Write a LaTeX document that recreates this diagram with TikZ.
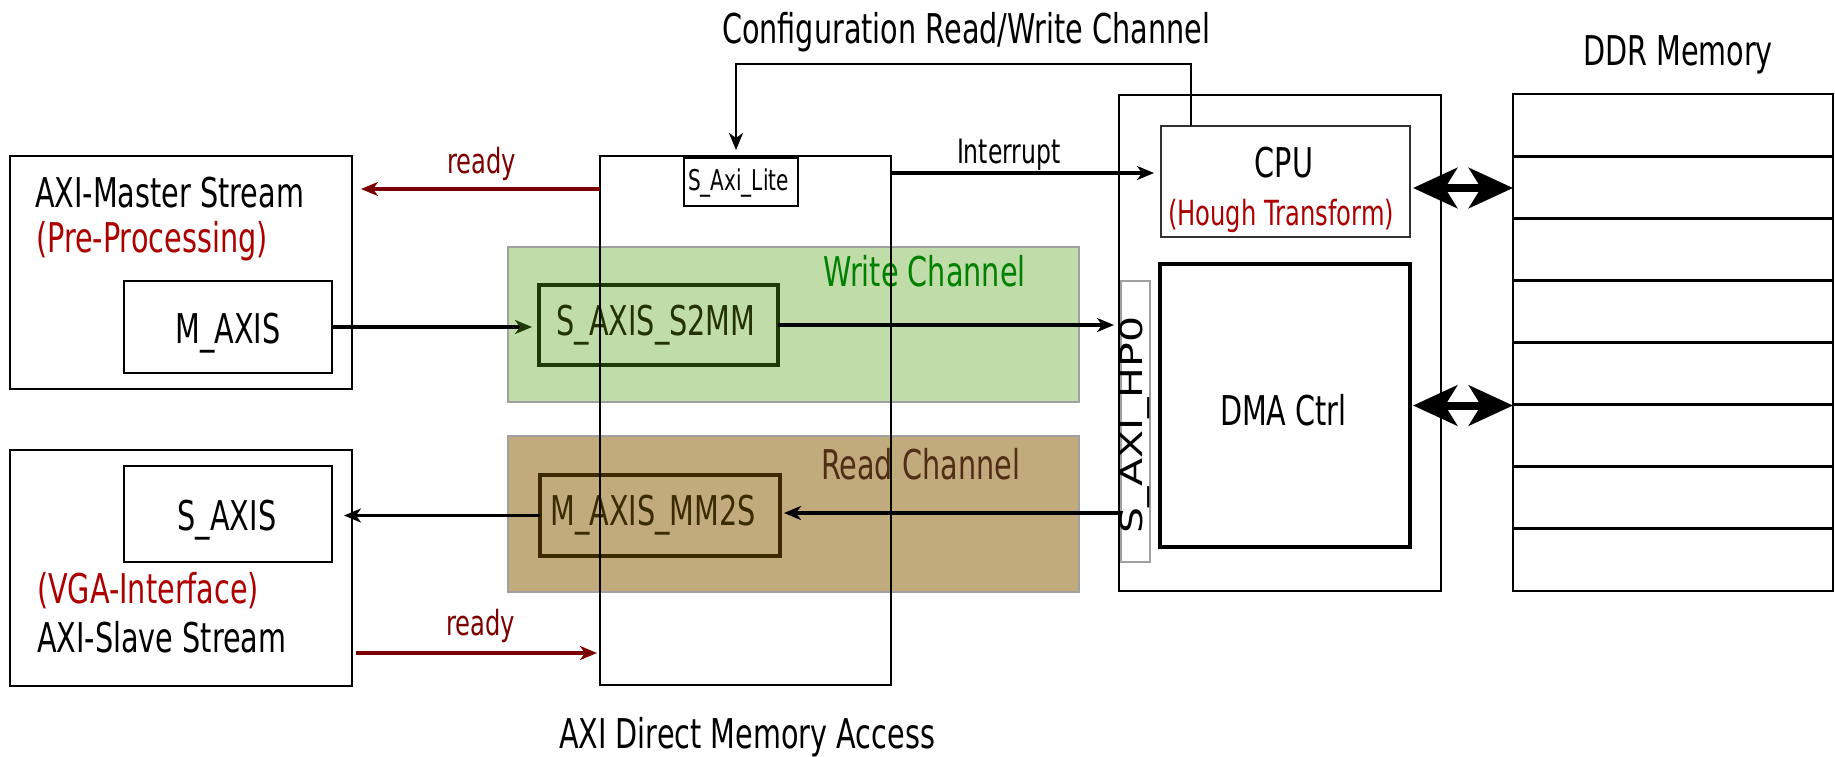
\documentclass[tikz,border=0pt]{standalone}
\usepackage{fontspec}
\usepackage{graphicx}
\setmainfont{DejaVu Sans}[FakeStretch=0.7]
\newfontfamily\plainfont{DejaVu Sans}
\usetikzlibrary{arrows.meta,fit,calc}

\definecolor{hlred}{RGB}{172,0,0}
\definecolor{sigred}{RGB}{125,0,0}
\definecolor{wfill}{RGB}{192,220,168}
\definecolor{rfill}{RGB}{193,170,124}
\definecolor{bandline}{RGB}{160,160,160}
\definecolor{wtext}{RGB}{0,128,0}
\definecolor{rtext}{RGB}{80,45,22}
\definecolor{wport}{RGB}{30,58,6}
\definecolor{wporttext}{RGB}{34,50,0}
\definecolor{rport}{RGB}{61,41,0}
\definecolor{rporttext}{RGB}{58,42,0}
\definecolor{cpuline}{RGB}{50,50,50}

\tikzset{
  box/.style={draw=black, line width=1.4pt, inner sep=0pt, outer sep=0pt},
  thinbox/.style={draw=cpuline, line width=0.9pt, inner sep=0pt, outer sep=0pt},
  thickbox/.style={draw=black, line width=2.4pt, inner sep=0pt, outer sep=0pt},
  hpbox/.style={draw=bandline, line width=1.1pt, fill=white, inner sep=0pt, outer sep=0pt},
  band/.style={draw=bandline, line width=1.1pt, inner sep=0pt, outer sep=0pt},
  portbox/.style={line width=2.4pt, inner sep=0pt, outer sep=0pt},
  rowline/.style={draw=black, line width=1.4pt},
  lbl/.style={inner sep=0pt, outer sep=0pt, anchor=base west},
  clbl/.style={inner sep=0pt, outer sep=0pt, anchor=base},
  fbig/.style={font=\fontsize{20.5}{24}\selectfont},
  fmid/.style={font=\fontsize{17.3}{20}\selectfont},
  fsig/.style={font=\fontsize{16.8}{20}\selectfont},
  fsmall/.style={font=\fontsize{14.3}{17}\selectfont},
  tip/.style={-{Stealth[length=8.5pt,width=7pt,inset=2.5pt]}},
  conn/.style={draw=black, line width=1.6pt, tip},
  redconn/.style={draw=sigred, line width=1.9pt, tip},
  dbl/.style={draw=black, line width=4pt,
    {Stealth[length=22pt,width=20pt,inset=6pt]}-{Stealth[length=22pt,width=20pt,inset=6pt]}},
}

\begin{document}
\begin{tikzpicture}[x=0.5pt,y=-0.5pt]
\useasboundingbox (0,0) rectangle (1835,756);

% write and read channel bands
\node[band, fill=wfill, fit={(508,247) (1079,402)}] (wch) {};
\node[band, fill=rfill, fit={(508,436) (1079,592)}] (rch) {};
\node[lbl, fbig, text=wtext] (wchtxt) at (823,286) {Write Channel};
\node[lbl, fbig, text=rtext] (rchtxt) at (821,479) {Read Channel};

% stream ports of the DMA engine
\node[portbox, draw=wport, fit={(539,285) (778,365)}] (s2mm) {};
\node[portbox, draw=rport, fit={(540,475) (780,556)}] (mm2s) {};
\node[clbl, fbig, text=wporttext] (s2mmtxt) at (656,335) {S\_AXIS\_S2MM};
\node[clbl, fbig, text=rporttext] (mm2stxt) at (653,525) {M\_AXIS\_MM2S};

% AXI DMA block, its outline runs over the bands
\node[box, line width=1.2pt, fit={(600,156) (891,685)}] (dma) {};
\node[box, fit={(684,158) (798,206)}] (lite) {};
\node[lbl, fsmall] (litetxt) at (688,190) {S\_Axi\_Lite};
\node[lbl, fbig] (dmatxt) at (559,748) {AXI Direct Memory Access};

% stream master (pre-processing)
\node[box, fit={(10,156) (352,389)}] (master) {};
\node[box, fit={(124,281) (332,373)}] (maxis) {};
\node[lbl, fbig] (mastertxt) at (35,207) {AXI-Master Stream};
\node[lbl, fbig, text=hlred] (pretxt) at (36,252) {(Pre-Processing)};
\node[clbl, fbig] (maxistxt) at (228,343) {M\_AXIS};

% stream slave (VGA)
\node[box, fit={(10,450) (352,686)}] (slave) {};
\node[box, fit={(124,466) (332,562)}] (saxis) {};
\node[clbl, fbig] (saxistxt) at (227,530) {S\_AXIS};
\node[lbl, fbig, text=hlred] (vgatxt) at (37,603) {(VGA-Interface)};
\node[lbl, fbig] (slavetxt) at (37,652) {AXI-Slave Stream};

% processing system
\node[box, fit={(1119,95) (1441,591)}] (ps) {};
\node[thinbox, fit={(1161,126) (1410,237)}] (cpu) {};
\node[clbl, fbig] (cputxt) at (1284,177) {CPU};
\node[lbl, fmid, text=hlred] (houghtxt) at (1168,225) {(Hough Transform)};
\node[thickbox, fit={(1160,264) (1410,547)}] (dmac) {};
\node[lbl, fbig] (dmactxt) at (1220,425) {DMA Ctrl};
\node[hpbox, fit={(1121,281) (1150,562)}] (hp) {};
\node[rotate=90, inner sep=0pt] (hptxt) at (1135,425)
  {\scalebox{1}[0.75]{\plainfont\fontsize{20.5}{24}\selectfont S\_AXI\_HP0}};

% DDR memory
\node[box, fit={(1513,94) (1833,591)}] (ddr) {};
\foreach \i in {1,...,7}
  \draw[rowline] ($(ddr.north west)!\i/8!(ddr.south west)$) -- ($(ddr.north east)!\i/8!(ddr.south east)$);
\node[lbl, fbig] (ddrtxt) at (1583,65) {DDR Memory};

% configuration channel
\node[lbl, fbig] (cfgtxt) at (722,43) {Configuration Read/Write Channel};
\coordinate (cfgtop) at (1191,64);
\draw[conn, line width=1.3pt] (cfgtop |- cpu.north) -- (cfgtop) -| ($(lite.north)+(-5,-8)$);

% interrupt
\coordinate (intr) at (0,173);
\draw[conn] (intr -| dma.east) -- ($(intr -| cpu.west)+(-7,0)$);
\node[lbl, fsig] (inttxt) at (957,163) {Interrupt};

% ready handshakes
\coordinate (rdy1) at (0,189);
\draw[redconn] (rdy1 -| dma.west) -- ($(rdy1 -| master.east)+(9,0)$);
\node[lbl, fmid, text=sigred] (rdy1txt) at (447,173) {ready};
\coordinate (rdy2) at (0,653);
\draw[redconn] ($(rdy2 -| slave.east)+(4,0)$) -- ($(rdy2 -| dma.west)+(-3,0)$);
\node[lbl, fmid, text=sigred] (rdy2txt) at (446,635) {ready};

% stream data paths
\draw[conn, -{Stealth[length=8.5pt,width=7pt,inset=2.5pt,color=wport]}]
  (maxis.east) -- ($(maxis.east -| s2mm.west)+(-7,0)$);
\draw[conn] (s2mm.east) -- ($(s2mm.east -| hp.west)+(-7,0)$);
\coordinate (rdpath) at (0,513);
\draw[conn] (rdpath -| hp.west) -- ($(rdpath -| mm2s.east)+(4,0)$);
\draw[conn] (mm2s.west) -- ($(mm2s.west -| slave.east)+(-8,0)$);

% memory ports
\coordinate (cpumem) at (0,188);
\draw[dbl] ($(cpumem -| cpu.east)+(3,0)$) -- (cpumem -| ddr.west);
\draw[dbl] ($(dmac.east)+(3,0)$) -- (dmac.east -| ddr.west);
\end{tikzpicture}
\end{document}
